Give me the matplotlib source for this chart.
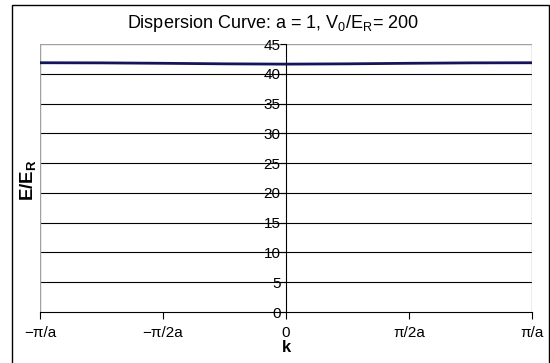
import numpy as np
import matplotlib
matplotlib.use('Agg')
import matplotlib.pyplot as plt
from matplotlib.patches import Rectangle

plt.rcParams['font.family'] = ['Liberation Sans', 'DejaVu Sans']
plt.rcParams['mathtext.default'] = 'regular'

# wave vector in units of pi/a, energy in units of E_R
k_frac = [-1.0, -0.75, -0.5, -0.25, 0.0, 0.25, 0.5, 0.75, 1.0]
energy = [41.85, 41.83, 41.76, 41.67, 41.62, 41.67, 41.76, 41.83, 41.85]

xtick_frac = [-1.0, -0.5, 0.0, 0.5, 1.0]
xtick_labels = ['\u2212\u03c0/a', '\u2212\u03c0/2a', '0', '\u03c0/2a', '\u03c0/a']
ytick_vals = [0, 5, 10, 15, 20, 25, 30, 35, 40, 45]

k = np.pi * np.array(k_frac)

fig = plt.figure(figsize=(5.5, 3.63), dpi=100)
ax = fig.add_axes([40/550, 1 - 312/363, (532 - 40)/550, (312 - 44)/363])

# outer chart frame
fig.add_artist(Rectangle((12/550, -0.05), (549 - 12)/550, 1.05 - 5/363,
                         transform=fig.transFigure, fill=False,
                         edgecolor='black', lw=1.0))

for y in ytick_vals[1:-1]:
    ax.axhline(y, color='black', lw=0.8, zorder=1)
# plot area edges in gray
ax.axhline(45, color='#a0a0a0', lw=1.0, zorder=1)
ax.axvline(-np.pi, color='#a0a0a0', lw=1.0, zorder=1)
ax.axvline(np.pi, color='#a0a0a0', lw=1.0, zorder=1)

ax.plot(k, energy, color='#14145a', lw=2.0, zorder=3)

ax.set_xlim(-np.pi, np.pi)
ax.set_ylim(0, 45)

ax.spines['top'].set_visible(False)
ax.spines['right'].set_visible(False)
ax.spines['left'].set_position(('data', 0))
ax.spines['left'].set_linewidth(0.8)
ax.spines['bottom'].set_linewidth(0.8)

ax.set_xticks(np.pi * np.array(xtick_frac))
ax.set_xticklabels(xtick_labels, fontsize=11)
ax.set_yticks(ytick_vals)
ax.set_yticklabels([str(v) for v in ytick_vals], fontsize=11)
ax.tick_params(axis='x', direction='out', length=5, width=0.8, pad=5)
ax.tick_params(axis='y', direction='out', length=4, width=0.8, pad=0)

ax.set_xlabel('k', fontsize=12, fontweight='bold', labelpad=0)
fig.text(28/550, 1 - 180/363, r'E/E$_{R}$', rotation=90, fontsize=13.5,
         fontweight='bold', ha='center', va='center')
fig.text(273/550, 1 - 24/363, 'Dispersion Curve: a = 1, V$_0$/E$_R$= 200',
         fontsize=13, ha='center', va='center')

fig.savefig('out.png', dpi=100)
